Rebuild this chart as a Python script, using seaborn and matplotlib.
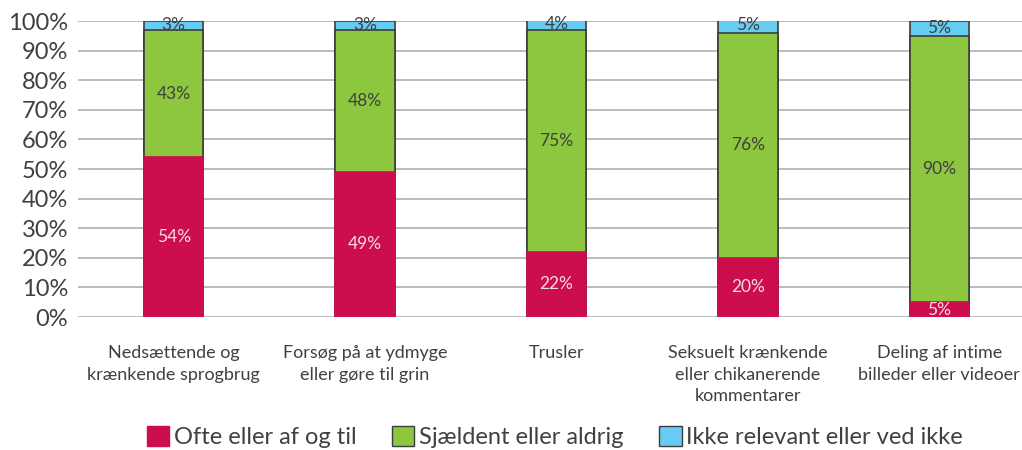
import pandas as pd
import matplotlib.pyplot as plt
import seaborn as sns
from matplotlib.patches import Patch

# Data (percent)
categories = [
    "Nedsættende og\nkrænkende sprogbrug",
    "Forsøg på at ydmyge\neller gøre til grin",
    "Trusler",
    "Seksuelt krænkende\neller chikanerende\nkommentarer",
    "Deling af intime\nbilleder eller videoer",
]
ofte = [54, 49, 22, 20, 5]
sjaeldent = [43, 48, 75, 76, 90]
ikke_relevant = [3, 3, 4, 5, 5]

series_names = ["Ofte eller af og til", "Sjældent eller aldrig", "Ikke relevant eller ved ikke"]
colors = ["#CC0E4C", "#8DC63F", "#66CCF2"]
text_col = "#404040"

df = pd.DataFrame({"kategori": categories, "ofte": ofte,
                   "sjaeldent": sjaeldent, "ikke": ikke_relevant})
df["cum1"] = df["ofte"]
df["cum2"] = df["ofte"] + df["sjaeldent"]
df["cum3"] = df["cum2"] + df["ikke"]

sns.set_style("white")
plt.rcParams["font.family"] = ["Lato", "DejaVu Sans"]

fig = plt.figure(figsize=(10.22, 4.5), dpi=100)
ax = fig.add_axes([78 / 1022, 133 / 450, (1035 - 78) / 1022, 296 / 450])

edge = "#3c3c3c"
bw = 0.31
# stacked by drawing cumulative heights from the top layer down
sns.barplot(data=df, x="kategori", y="cum3", color=colors[2], saturation=1,
            width=bw, edgecolor=edge, linewidth=1.2, ax=ax)
sns.barplot(data=df, x="kategori", y="cum2", color=colors[1], saturation=1,
            width=bw, edgecolor=edge, linewidth=1.2, ax=ax)
sns.barplot(data=df, x="kategori", y="cum1", color=colors[0], saturation=1,
            width=bw, edgecolor=colors[0], linewidth=1.2, ax=ax)

# segment labels
for i, row in df.iterrows():
    ax.text(i, row["ofte"] / 2, f"{row['ofte']}%", ha="center", va="center",
            fontsize=12.5, color="#f6dce5")
    ax.text(i, row["cum1"] + row["sjaeldent"] / 2, f"{row['sjaeldent']}%",
            ha="center", va="center", fontsize=12.5, color=text_col)
    ax.text(i, row["cum2"] + row["ikke"] / 2, f"{row['ikke']}%",
            ha="center", va="center", fontsize=12.5, color=text_col)

ax.set_ylim(0, 100)
ax.set_xlim(-0.5, 4.5)
ax.set_yticks(range(0, 101, 10))
ax.set_yticklabels([f"{v}%" for v in range(0, 101, 10)], fontsize=17, color=text_col)
ax.tick_params(axis="y", length=0, pad=7)
ax.tick_params(axis="x", length=0, pad=20)
for lab in ax.get_xticklabels():
    lab.set_fontsize(13)
    lab.set_color(text_col)
    lab.set_linespacing(1.45)
ax.set_xlabel("")
ax.set_ylabel("")
ax.yaxis.grid(True, color="#b5b5b5", linewidth=1.3)
ax.set_axisbelow(True)
for s in ax.spines.values():
    s.set_visible(False)

legend_elements = [
    Patch(facecolor=colors[0], edgecolor=colors[0], label=series_names[0]),
    Patch(facecolor=colors[1], edgecolor=edge, label=series_names[1]),
    Patch(facecolor=colors[2], edgecolor=edge, label=series_names[2]),
]
fig.legend(handles=legend_elements, loc="center", bbox_to_anchor=(0.543, 13 / 450),
           ncol=3, frameon=False, fontsize=17, handlelength=0.95, handleheight=0.95,
           handletextpad=0.2, columnspacing=1.5, borderpad=0, labelcolor=text_col)

plt.savefig("out.png", dpi=100)
